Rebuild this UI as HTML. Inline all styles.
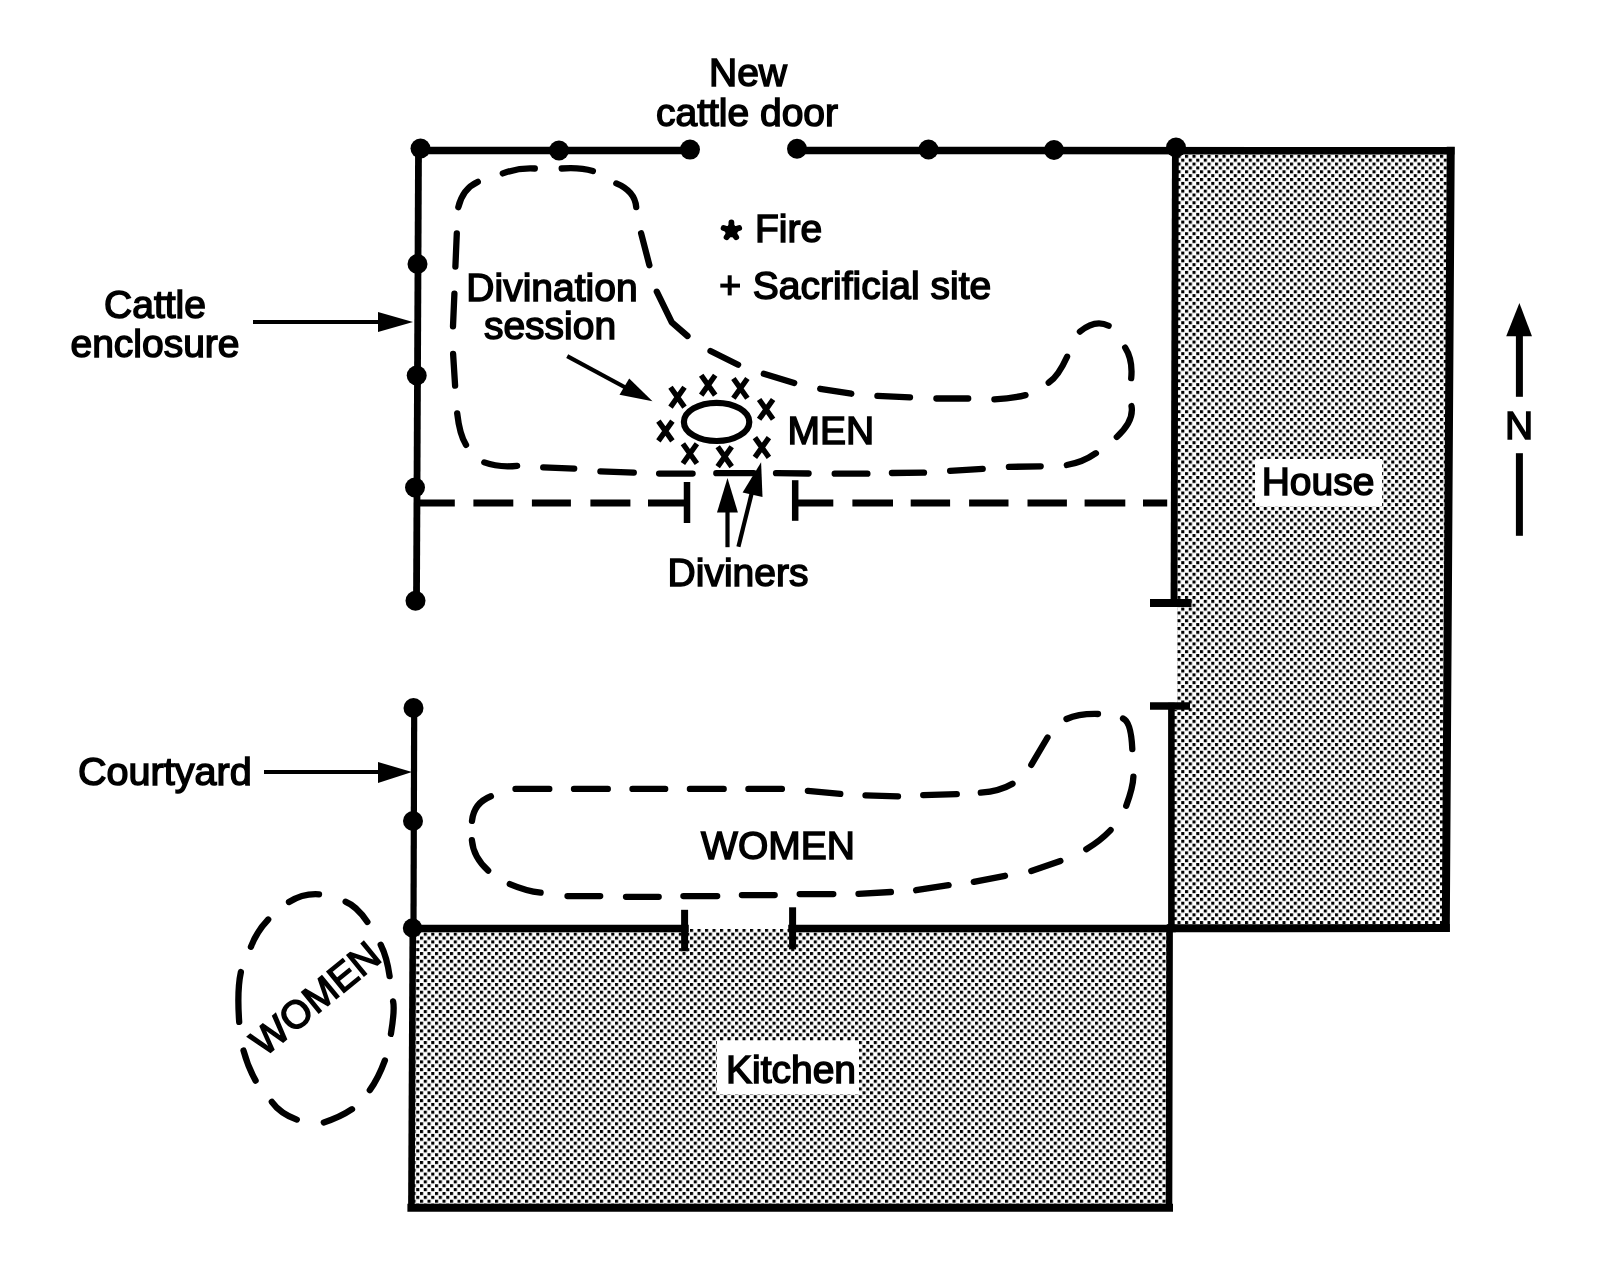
<!DOCTYPE html>
<html><head><meta charset="utf-8">
<style>
html,body{margin:0;padding:0;background:#fff;overflow:hidden;}
svg{display:block;will-change:transform;}
text{font-family:"Liberation Sans",sans-serif;font-size:39px;fill:#000;stroke:#000;stroke-width:1.5px;}
</style></head>
<body>
<svg width="1615" height="1266" viewBox="0 0 1615 1266">
<defs>
<pattern id="dots" patternUnits="userSpaceOnUse" width="7.5" height="7.74" x="0" y="0">
<rect x="0" y="0" width="3.1" height="3.1" fill="#000"/>
<rect x="3.75" y="3.87" width="3.1" height="3.1" fill="#000"/>
</pattern>
</defs>
<rect x="0" y="0" width="1615" height="1266" fill="#fff"/>

<polygon points="1176,151 1450,151 1446,928 1173,928 1173,710 1177,710 1177,600" fill="url(#dots)"/>
<rect x="412" y="929" width="757" height="278" fill="url(#dots)"/>

<g stroke="#000" stroke-width="7.5" fill="none" stroke-linecap="square">
<line x1="420" y1="150.5" x2="690" y2="150.5"/>
<line x1="797" y1="150.5" x2="1450.7" y2="150.7"/>
<line x1="1450.7" y1="150.7" x2="1445.8" y2="928" stroke-width="8"/>
<line x1="1171" y1="928.2" x2="1445.8" y2="928" stroke-width="8"/>
<line x1="1175.4" y1="150" x2="1174" y2="603" stroke-width="6.8"/>
<line x1="1171.4" y1="706" x2="1171.4" y2="928" stroke-width="6.6"/>
<line x1="1169.6" y1="928" x2="1169" y2="1207.7" stroke-width="6.6"/>

<line x1="418.5" y1="150" x2="416.5" y2="601" stroke-width="6.8"/>
<line x1="414.2" y1="708" x2="413.5" y2="928" stroke-width="6.2"/>
<line x1="412.8" y1="928" x2="411.4" y2="1207.7" stroke-width="6.6"/>
<line x1="411.4" y1="1207.7" x2="1169" y2="1207.7" stroke-width="8"/>
<line x1="413" y1="928.5" x2="685" y2="928.5"/>
<line x1="792" y1="928.5" x2="1172" y2="928.5"/>
</g>
<g stroke="#000" stroke-width="6.5" fill="none">
<line x1="1150" y1="603" x2="1191.5" y2="603" stroke-width="8"/>
<line x1="1150" y1="706" x2="1190" y2="706" stroke-width="7.5"/>
<line x1="684.6" y1="909.8" x2="684.6" y2="951.3" stroke-width="7"/>
<line x1="792.6" y1="907.3" x2="792.6" y2="949.4" stroke-width="7"/>
<line x1="687" y1="482" x2="687" y2="523"/>
<line x1="795.2" y1="480.2" x2="795.2" y2="520.8"/>
</g>

<g fill="#000">
<circle cx="420.5" cy="148.5" r="10"/>
<circle cx="559" cy="150.5" r="10"/>
<circle cx="690" cy="149.6" r="10"/>
<circle cx="797" cy="148.7" r="10"/>
<circle cx="928.5" cy="149.5" r="10"/>
<circle cx="1054" cy="150" r="10"/>
<circle cx="1176" cy="147.5" r="10"/>
<circle cx="417.5" cy="264" r="10"/>
<circle cx="416.7" cy="375.5" r="10"/>
<circle cx="415" cy="487.5" r="10"/>
<circle cx="415.5" cy="600.7" r="10"/>
<circle cx="413.5" cy="708" r="10"/>
<circle cx="413" cy="821" r="10"/>
<circle cx="412.5" cy="928" r="9.7"/>
</g>

<path d="M415.8,503L454.8,503 M473.4,503L513.3,503 M531.9,503L570.9,503 M590.4,503L630.4,503 M648.0,503L687.0,503 M795.2,503L833.3,503 M852.4,503L893.0,503 M910.7,503L950.1,503 M969.1,503L1008.5,503 M1027.5,503L1066.9,503 M1084.6,503L1125.3,503 M1143.0,503L1167.2,503" stroke="#000" stroke-width="6.8" fill="none"/>
<path d="M458.3,207.2Q462.7,188.8 477.8,181.9 M502.8,173.4Q518.9,167.5 534.8,168.5 M561.7,168.5Q579.8,167.1 592.9,171.1 M616.3,183.4Q634.9,191.1 636.2,207.1 M641.1,233.2L649.4,265.2 M656.8,291.7L671.8,322.4L687.5,336.0 M710.5,351.0L738.1,364.7 M763.8,373.8L794.2,382.9 M820.2,388.8L851.3,393.7 M877.4,395.8L910.0,397.4 M936.4,398.5L968.2,398.5 M994.4,399.3Q1012.3,398.4 1025.5,395.1 M1048.7,382.7Q1058.2,376.4 1067.1,356.7 M1079.9,331.6Q1095.2,318.9 1108.6,325.7 M1125.2,347.6Q1133.0,359.9 1131.2,378.2 M1131.5,406.0Q1134.2,421.1 1116.8,437.0 M1095.9,453.2Q1082.7,462.5 1066.8,465.0 M1040.7,466.3L1008.9,466.9 M982.7,468.8L950.1,470.8 M924.0,472.6L891.9,473.0 M867.4,473.7L834.7,473.7 M808.6,473.5L776.0,473.2 M753.8,473.2L716.3,473.2 M692.6,473.6L659.1,473.6 M633.8,472.7L600.4,471.3 M574.2,468.7L543.2,467.3 M517.1,465.8Q498.4,467.7 484.3,462.4 M466.0,444.9Q459.6,434.6 457.2,413.4 M455.1,385.7L453.1,353.9 M453.0,326.3L454.4,293.6 M455.4,266.7L456.8,233.3 M515.5,788.9L549.3,788.9 M574.0,788.9L607.8,788.9 M632.5,788.9L665.2,788.9 M689.9,788.9L723.7,788.9 M748.4,788.9L781.9,788.9 M807.9,790.8L840.3,793.9 M865.5,795.4L898.0,796.4 M923.2,795.2L956.8,794.2 M980.8,792.7Q1000.0,791.1 1012.5,783.7 M1031.3,764.9L1047.5,737.5 M1066.5,719.0Q1078.8,713.5 1098.0,714.0 M1123.0,718.5Q1131.1,721.7 1132.3,749.2 M1133.4,776.7Q1133.0,787.6 1126.2,805.8 M1110.6,830.1Q1100.6,840.6 1086.3,849.2 M1060.4,860.9L1031.3,870.9 M1005.0,875.8L973.8,881.9 M948.6,885.1L916.1,890.2 M890.9,892.0L858.5,893.9 M833.3,894.1L799.7,894.1 M774.7,895.1L741.9,895.1 M717.2,896.1L683.4,896.1 M658.7,896.8L626.0,896.8 M600.2,896.1L567.5,896.1 M540.6,892.6Q526.5,891.2 509.8,884.1 M488.2,870.6Q473.3,857.0 471.9,840.2 M472.0,820.9Q473.9,803.0 490.9,796.3 M289.0,902.0Q303.2,893.2 319.0,894.3 M345.6,901.7Q356.6,906.0 367.4,921.9 M380.7,944.7Q386.9,956.9 389.6,976.1 M393.1,1001.4Q394.9,1009.7 390.9,1033.9 M384.9,1060.4Q378.3,1078.4 369.8,1090.2 M352.0,1109.2Q339.9,1117.4 323.8,1122.4 M296.8,1119.6Q280.0,1113.3 271.8,1101.8 M255.6,1080.6Q247.8,1066.7 243.5,1050.5 M239.2,1021.9Q236.9,990.2 240.9,972.0 M250.9,946.8Q256.8,931.4 268.2,919.5" stroke="#000" stroke-width="6.3" fill="none" stroke-linecap="round" stroke-linejoin="round"/>

<ellipse cx="716.6" cy="421.9" rx="32.7" ry="19.1" stroke="#000" stroke-width="6.2" fill="none"/>

<g stroke="#000" stroke-width="4.2" fill="none">
<line x1="253" y1="322" x2="385" y2="322"/>
<line x1="264" y1="772" x2="385" y2="772"/>
<line x1="567.2" y1="356.1" x2="630" y2="390"/>
<line x1="727.5" y1="547.2" x2="727.5" y2="505"/>
<line x1="738.4" y1="546.7" x2="752" y2="492"/>
</g>
<g stroke="#000" stroke-width="7" fill="none">
<line x1="1519.4" y1="330" x2="1519.4" y2="396.8"/>
<line x1="1519.4" y1="453.2" x2="1519.4" y2="535.8"/>
</g>
<g fill="#000">
<polygon points="413,322 378,312 378,332"/>
<polygon points="412,772 378,762 378,783"/>
<polygon points="652.5,401.2 619.5,394.7 629.2,378.6"/>
<polygon points="727.5,477.9 717,512.5 737.9,512.5"/>
<polygon points="761.1,462.3 742.6,492.6 762.5,496.9"/>
<polygon points="1519.4,303.1 1506.2,336.3 1532,336.3"/>
</g>

<text x="748" y="86" text-anchor="middle">New</text>
<text x="747" y="126" text-anchor="middle">cattle door</text>
<text x="155" y="318" text-anchor="middle">Cattle</text>
<text x="155" y="357" text-anchor="middle">enclosure</text>
<text x="552" y="301" text-anchor="middle">Divination</text>
<text x="550" y="339" text-anchor="middle">session</text>
<path d="M731.4,230.6L731.40,222.40M731.4,230.6L739.20,228.07M731.4,230.6L736.22,237.23M731.4,230.6L726.58,237.23M731.4,230.6L723.60,228.07" fill="none" stroke="#000" stroke-width="5.8" stroke-linecap="round"/>
<polygon points="731.40,223.30 734.46,226.59 738.53,228.48 736.35,232.41 735.81,236.87 731.40,236.00 726.99,236.87 726.45,232.41 724.27,228.48 728.34,226.59" fill="#000" stroke="#000" stroke-width="2" stroke-linejoin="round"/>
<text x="755" y="242">Fire</text>
<g stroke="#000" stroke-width="4" fill="none">
<line x1="720.3" y1="285.6" x2="740" y2="285.6"/>
<line x1="729.7" y1="275.3" x2="729.7" y2="295.4"/>
</g>
<text x="752.8" y="299">Sacrificial site</text>
<text x="787.5" y="444">MEN</text>
<text x="738" y="586" text-anchor="middle">Diviners</text>
<text x="164.8" y="785" text-anchor="middle" style="font-size:39.6px">Courtyard</text>
<text x="778" y="859" text-anchor="middle">WOMEN</text>

<g stroke="#000" stroke-width="5.4" fill="none">
<path d="M670.5,387.3L684.5,407.1M684.5,387.3L670.5,407.1"/>
<path d="M701.2,375.3L715.2,395.1M715.2,375.3L701.2,395.1"/>
<path d="M733.4,378.5L747.4,398.3M747.4,378.5L733.4,398.3"/>
<path d="M759.1,399.5L773.1,419.3M773.1,399.5L759.1,419.3"/>
<path d="M658.4,421.1L672.4,440.9M672.4,421.1L658.4,440.9"/>
<path d="M682.9,443.7L696.9,463.5M696.9,443.7L682.9,463.5"/>
<path d="M717.7,446.8L731.7,466.6M731.7,446.8L717.7,466.6"/>
<path d="M754.9,437.6L768.9,457.4M768.9,437.6L754.9,457.4"/>
</g>

<rect x="1255" y="459" width="127" height="47" fill="#fff"/>
<text x="1318" y="495" text-anchor="middle">House</text>
<rect x="717" y="1041" width="142" height="53" fill="#fff"/>
<text x="791" y="1083" text-anchor="middle">Kitchen</text>
<text x="1519" y="439" text-anchor="middle">N</text>

<text x="0" y="0" text-anchor="middle" transform="translate(315,998) rotate(-39.3) translate(0,14)">WOMEN</text>
</svg>
</body></html>
